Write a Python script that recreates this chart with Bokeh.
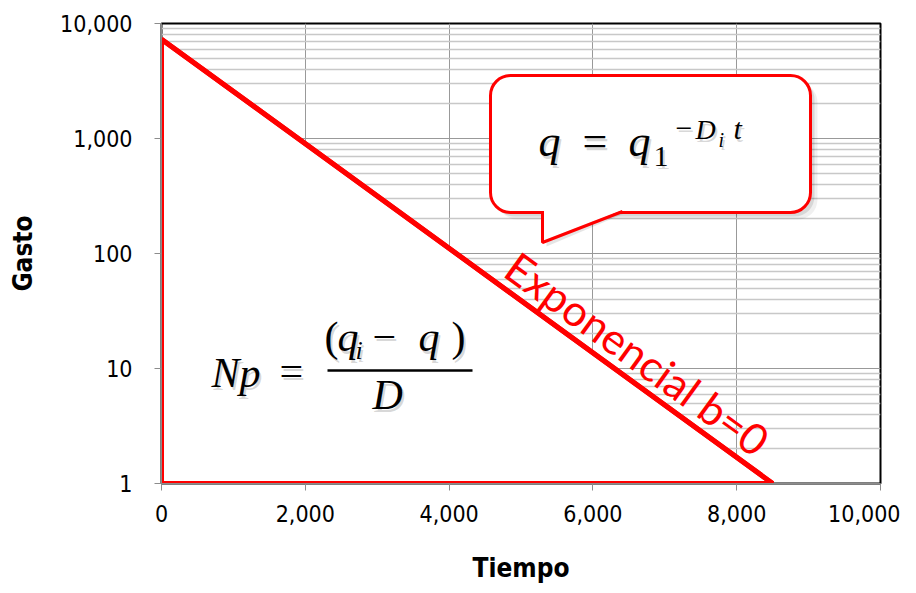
from bokeh.plotting import figure
from bokeh.models import (Range1d, FixedTicker, NumeralTickFormatter, BoxAnnotation,
                          PolyAnnotation, ColumnDataSource)
from bokeh.core.properties import value
from bokeh.embed import file_html
from bokeh.resources import INLINE

# ---- data ----
time_pts = [0, 8500]          # Tiempo
rate_pts = [7300, 1]          # Gasto
x_ticks = [0, 2000, 4000, 6000, 8000, 10000]
y_ticks = [1, 10, 100, 1000, 10000]
y_minor = [m * d for d in (1, 10, 100, 1000) for m in range(2, 10)]
curve_label = "Exponencial b=0"

# ---- layout helpers (pixel -> data for annotations) ----
FX0, FX1, FY0, FY1 = 161, 880, 23, 483
def dx(px):
    return (px - FX0) / (FX1 - FX0) * 10000
def dy(py):
    return 10 ** ((FY1 - py) / (FY1 - FY0) * 4)

AXF = "DejaVu Sans Condensed, DejaVu Sans, sans-serif"
p = figure(width=900, height=585, x_axis_type="linear", y_axis_type="log",
           x_range=Range1d(0, 10000), y_range=Range1d(1, 10000),
           output_backend="svg", toolbar_location=None,
           min_border_left=161, min_border_right=20, min_border_top=23, min_border_bottom=102)
p.background_fill_color = "white"
p.border_fill_color = "white"
p.outline_line_color = "black"
p.outline_line_width = 2

p.xaxis.ticker = FixedTicker(ticks=x_ticks)
p.yaxis.ticker = FixedTicker(ticks=y_ticks, minor_ticks=y_minor)
p.xaxis.formatter = NumeralTickFormatter(format="0,0")
p.yaxis.formatter = NumeralTickFormatter(format="0,0")
for ax in (p.xaxis, p.yaxis):
    ax.axis_line_color = "#8c8c8c"
    ax.major_tick_line_color = "#8c8c8c"
    ax.major_tick_in = 0
    ax.major_tick_out = 7
    ax.minor_tick_line_color = None
    ax.major_label_text_font = AXF
    ax.major_label_text_font_size = "23px"
    ax.major_label_text_color = "black"
    ax.axis_label_text_font = AXF
    ax.axis_label_text_font_style = "bold"
    ax.axis_label_text_font_size = "26px"
    ax.axis_label_text_color = "black"
p.xaxis.axis_label = "Tiempo"
p.yaxis.axis_label = "Gasto"
p.xaxis.major_label_standoff = 14
p.yaxis.major_label_standoff = 22
p.xaxis.axis_label_standoff = 28
p.yaxis.axis_label_standoff = 19

p.xgrid.grid_line_color = "#999999"
p.xgrid.grid_line_width = 1
p.ygrid.grid_line_color = "#999999"
p.ygrid.grid_line_width = 1
p.ygrid.minor_grid_line_color = "#c8c8c8"
p.ygrid.minor_grid_line_width = 1.5

# ---- area under the curve (white fill hides grid) ----
p.patch([time_pts[0], time_pts[0], time_pts[1]], [rate_pts[1], rate_pts[0], rate_pts[1]],
        fill_color="white", line_color="red", line_width=5)
p.line(time_pts, rate_pts, line_color="red", line_width=5)

# ---- callout box ----
bl, br, bt, bb = dx(490), dx(810), dy(75), dy(212)
for off, a in ((7, 0.06), (4, 0.10)):
    p.add_layout(BoxAnnotation(left=dx(490 + off), right=dx(810 + off), top=dy(75 + off), bottom=dy(212 + off),
                               border_radius=20, fill_color="black", fill_alpha=a, line_color=None))
p.add_layout(PolyAnnotation(xs=[dx(546), dx(546), dx(626)], ys=[dy(212), dy(246), dy(212)],
                            fill_color="black", fill_alpha=0.10, line_color=None))
p.add_layout(BoxAnnotation(left=bl, right=br, top=bt, bottom=bb, border_radius=20,
                           fill_color="white", fill_alpha=1, line_color="red", line_alpha=1, line_width=3))
p.add_layout(PolyAnnotation(xs=[dx(543.5), dx(543.5), dx(620), dx(630)], ys=[dy(209), dy(240), dy(210.5), dy(209)],
                            fill_color="white", fill_alpha=1, line_color=None))
p.line([dx(542), dx(542), dx(622)], [dy(211), dy(242), dy(211)], line_color="red", line_width=3,
       level="overlay")

# ---- formula texts (x, baseline y in px, size in px) ----
rows = [
    # callout formula
    ("q", 538, 157, 44, "italic"),
    ("=", 582, 157, 44, "normal"),
    ("q", 628, 157, 44, "italic"),
    ("1", 653, 167, 30, "normal"),
    ("\u2212", 675, 139, 30, "normal"),
    ("D", 695, 139, 28, "italic"),
    ("i", 718, 147, 20, "italic"),
    ("t", 733, 139, 30, "italic"),
    # Np formula
    ("Np", 211, 388, 42, "italic"),
    ("=", 279, 386, 42, "normal"),
    ("(", 324, 352, 42, "normal"),
    ("q", 337, 352, 42, "italic"),
    ("i", 355, 360, 26, "italic"),
    ("\u2212", 372, 352, 42, "normal"),
    ("q", 418, 352, 42, "italic"),
    (")", 451, 352, 42, "normal"),
    ("D", 372, 410, 42, "italic"),
]
K = 0.37  # baseline correction of the svg text placement
src = ColumnDataSource(dict(
    x=[dx(r[1]) for r in rows], y=[dy(r[2] - K * r[3]) for r in rows],
    xs=[dx(r[1] + 2) for r in rows], ys=[dy(r[2] + 3 - K * r[3]) for r in rows],
    text=[r[0] for r in rows], size=["%dpx" % r[3] for r in rows], style=[r[4] for r in rows]))
p.text(x="xs", y="ys", text="text", source=src, text_font=value("Liberation Serif"),
       text_font_size="size", text_font_style="style", text_color="#777777", text_alpha=0.3,
       text_baseline="alphabetic", text_align="left", level="overlay")
p.text(x="x", y="y", text="text", source=src, text_font=value("Liberation Serif"),
       text_font_size="size", text_font_style="style", text_color="black",
       text_baseline="alphabetic", text_align="left", level="overlay")
p.line([dx(327), dx(472)], [dy(370), dy(370)], line_color="black", line_width=2.5, level="overlay")

# ---- curve label ----
p.text(x=[dx(637)], y=[dy(353)], text=[curve_label], angle=-0.6266,
       text_font=value("Lato"), text_font_size="43px", text_color="red",
       text_align="center", text_baseline="middle")

open("out.html", "w").write(file_html(p, INLINE))
